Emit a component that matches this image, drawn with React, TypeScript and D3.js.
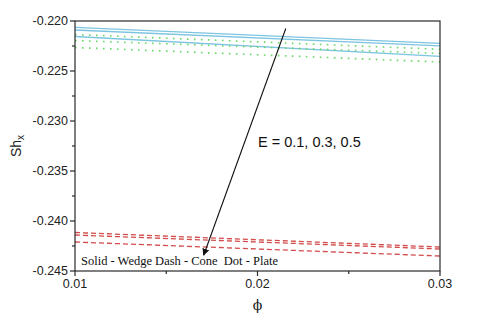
import React from "react";
import * as d3 from "d3";

const phi = [0.01, 0.03];
const wedge = [
  [-0.22063, -0.22223],
  [-0.2209, -0.22248],
  [-0.22155, -0.22353],
];
const plate = [
  [-0.22135, -0.22283],
  [-0.22195, -0.22325],
  [-0.22265, -0.2241],
];
const cone = [
  [-0.24115, -0.2426],
  [-0.2414, -0.2428],
  [-0.2421, -0.2435],
];
const yTicks = [-0.22, -0.225, -0.23, -0.235, -0.24, -0.245];
const yMinor = [-0.2225, -0.2275, -0.2325, -0.2375, -0.2425];
const xTicks = [0.01, 0.02, 0.03];
const xMinor = [0.015, 0.025];
const arrowFrom = [0.02155, -0.22075];
const arrowTo = [0.01705, -0.24342];

const W = 480, H = 321;
const L = 75, R = 440, T = 21, B = 271;

export default function App() {
  const x = d3.scaleLinear().domain([0.01, 0.03]).range([L, R]);
  const y = d3.scaleLinear().domain([-0.245, -0.22]).range([B, T]);
  const line = d3.line<number>().x((_, i) => x(phi[i])).y((d) => y(d));
  const axisColor = "#2a2a2a";
  const series = [
    { data: wedge, color: "#7cc4e0", dash: undefined, w: 1.3 },
    { data: plate, color: "#6ad86a", dash: "1.6 5.4", w: 1.7 },
    { data: cone, color: "#d24a4a", dash: "5 3", w: 1.3 },
  ];
  return (
    <svg width={W} height={H} style={{ position: "absolute", left: 0, top: 0, background: "#fff" }}>
      <defs>
        <marker id="ah" viewBox="0 0 10 10" refX="9" refY="5" markerWidth="6.5" markerHeight="6.5" orient="auto">
          <path d="M0,0 L10,5 L0,10 z" fill="#111" />
        </marker>
      </defs>
      {series.map((s, si) =>
        s.data.map((d, i) => (
          <path key={`${si}-${i}`} d={line(d) || ""} fill="none" stroke={s.color}
            strokeWidth={s.w} strokeDasharray={s.dash} strokeLinecap="butt" />
        ))
      )}
      <rect x={L} y={T} width={R - L} height={B - T} fill="none" stroke={axisColor} strokeWidth={1.2} />
      {yTicks.map((t) => (
        <g key={t}>
          <line x1={L - 5} x2={L} y1={y(t)} y2={y(t)} stroke={axisColor} strokeWidth={1.2} />
          <text x={L - 7} y={y(t)} dy="0.35em" textAnchor="end" fontFamily="Liberation Sans, Arial, sans-serif" fontSize={12.5} fill="#222">
            {t.toFixed(3)}
          </text>
        </g>
      ))}
      {yMinor.map((t) => (
        <line key={t} x1={L - 3} x2={L} y1={y(t)} y2={y(t)} stroke={axisColor} strokeWidth={1.2} />
      ))}
      {xTicks.map((t) => (
        <g key={t}>
          <line x1={x(t)} x2={x(t)} y1={B} y2={B + 5} stroke={axisColor} strokeWidth={1.2} />
          <text x={x(t)} y={B + 17} textAnchor="middle" fontFamily="Liberation Sans, Arial, sans-serif" fontSize={12.5} fill="#222">
            {t.toFixed(2)}
          </text>
        </g>
      ))}
      {xMinor.map((t) => (
        <line key={t} x1={x(t)} x2={x(t)} y1={B} y2={B + 3} stroke={axisColor} strokeWidth={1.2} />
      ))}
      <text x={x(0.02)} y={310} textAnchor="middle" fontFamily="DejaVu Serif, serif" fontSize={14} fill="#222">ϕ</text>
      <text transform={`translate(21,146) rotate(-90)`} textAnchor="middle" fontFamily="Liberation Sans, Arial, sans-serif" fontSize={14} fill="#222">
        Sh<tspan fontSize={10} dy="3">x</tspan>
      </text>
      <line x1={x(arrowFrom[0])} y1={y(arrowFrom[1])} x2={x(arrowTo[0])} y2={y(arrowTo[1])}
        stroke="#111" strokeWidth={1.1} markerEnd="url(#ah)" />
      <text x={258} y={147} fontFamily="Liberation Sans, Arial, sans-serif" fontSize={14.5} fill="#111">E = 0.1, 0.3, 0.5</text>
      <text x={81} y={265} fontFamily="Liberation Serif, Times New Roman, serif" fontSize={12.5} fill="#111" xmlSpace="preserve">
        Solid - Wedge Dash - Cone  Dot - Plate
      </text>
    </svg>
  );
}
